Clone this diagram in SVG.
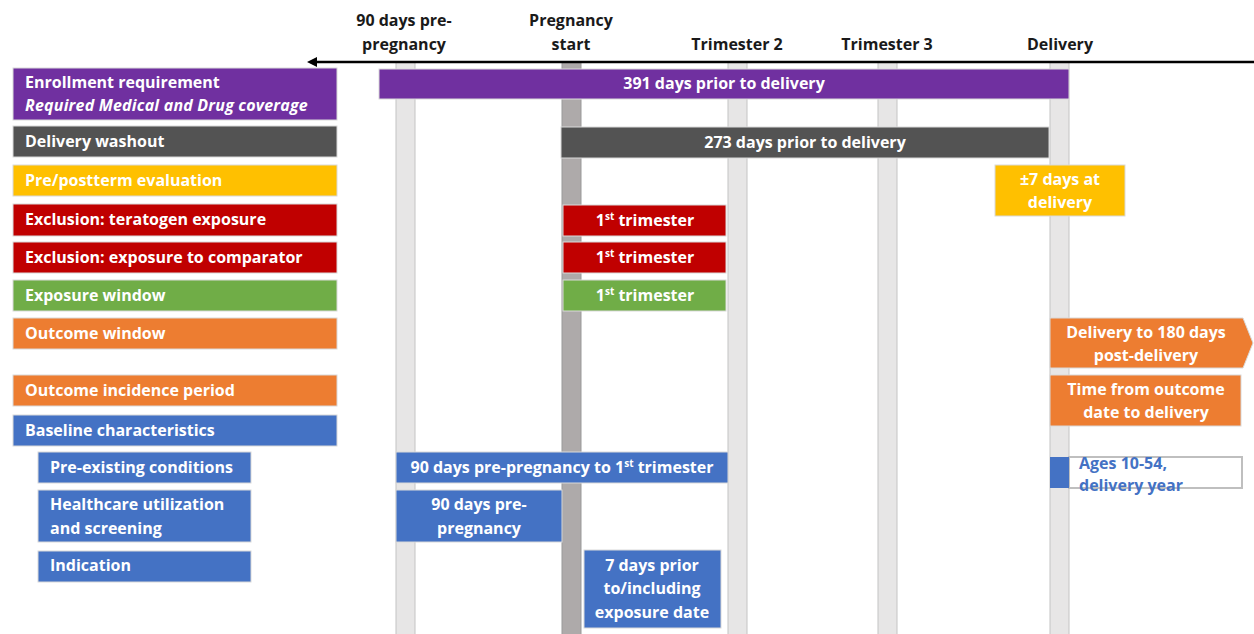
<svg xmlns="http://www.w3.org/2000/svg" width="1254" height="634" viewBox="0 0 1254 634">
<defs>
<style>
.t{font-family:"Open Sans","Noto Sans","Liberation Sans",sans-serif;font-weight:bold;font-size:16px;fill:#fff}
.h{font-family:"Open Sans","Noto Sans","Liberation Sans",sans-serif;font-weight:bold;font-size:16px;fill:#1a1a1a;text-anchor:middle}
.c{text-anchor:middle}
.band{fill:#e7e6e6;stroke:#c4c4c4;stroke-width:1}
.bx{stroke:#d9d9d9;stroke-width:1}
.pu{fill:#7030a0}.dg{fill:#535353}.ye{fill:#ffc000}.re{fill:#c00000}.gr{fill:#70ad47}.or{fill:#ed7d31}.bl{fill:#4472c4}
</style>
<marker id="ah" viewBox="0 0 10 10" refX="1" refY="5" markerWidth="4" markerHeight="4" orient="auto-start-reverse">
<path d="M0,0 L10,5 L0,10 z" fill="#000"/>
</marker>
</defs>
<rect width="1254" height="634" fill="#fff"/>

<g id="bands">
<rect class="band" x="396" y="62" width="19" height="580"/>
<rect x="562" y="62" width="19" height="580" fill="#aeaaaa" stroke="#9a9a9a"/>
<rect class="band" x="728" y="62" width="19" height="580"/>
<rect class="band" x="878" y="62" width="19" height="580"/>
<rect class="band" x="1050" y="62" width="19" height="580"/>
</g>

<g id="connectors">
<line x1="1254" y1="62" x2="316" y2="62" stroke="#000" stroke-width="2.5" marker-end="url(#ah)"/>
</g>

<g id="headers">
<text class="h" x="404" y="26">90 days pre-</text>
<text class="h" x="404" y="50">pregnancy</text>
<text class="h" x="571" y="26">Pregnancy</text>
<text class="h" x="571" y="50">start</text>
<text class="h" x="737" y="50">Trimester 2</text>
<text class="h" x="887" y="50">Trimester 3</text>
<text class="h" x="1060" y="50">Delivery</text>
</g>

<g id="label-enrollment"><rect class="bx pu" x="13" y="68" width="324" height="52"/>
<text class="t" x="25" y="88">Enrollment requirement</text>
<text class="t" x="25" y="111" font-style="italic" font-size="17" letter-spacing="0.2">Required Medical and Drug coverage</text></g>
<g id="label-washout"><rect class="bx dg" x="13" y="126" width="324" height="31"/><text class="t" x="25" y="147">Delivery washout</text></g>
<g id="label-preterm"><rect class="bx ye" x="13" y="165" width="324" height="31"/><text class="t" x="25" y="186">Pre/postterm evaluation</text></g>
<g id="label-teratogen"><rect class="bx re" x="13" y="204" width="324" height="32"/><text class="t" x="25" y="225">Exclusion: teratogen exposure</text></g>
<g id="label-comparator"><rect class="bx re" x="13" y="242" width="324" height="31"/><text class="t" x="25" y="263">Exclusion: exposure to comparator</text></g>
<g id="label-exposure"><rect class="bx gr" x="13" y="280" width="324" height="31"/><text class="t" x="25" y="301">Exposure window</text></g>
<g id="label-outcome"><rect class="bx or" x="13" y="318" width="324" height="31"/><text class="t" x="25" y="339">Outcome window</text></g>
<g id="label-incidence"><rect class="bx or" x="13" y="375" width="324" height="31"/><text class="t" x="25" y="396">Outcome incidence period</text></g>
<g id="label-baseline"><rect class="bx bl" x="13" y="415" width="324" height="31"/><text class="t" x="25" y="436">Baseline characteristics</text></g>
<g id="label-preexisting"><rect class="bx bl" x="38" y="452" width="213" height="31"/><text class="t" x="50" y="473">Pre-existing conditions</text></g>
<g id="label-healthcare"><rect class="bx bl" x="38" y="490" width="213" height="52"/>
<text class="t" x="50" y="510">Healthcare utilization</text><text class="t" x="50" y="534">and screening</text></g>
<g id="label-indication"><rect class="bx bl" x="38" y="551" width="213" height="31"/><text class="t" x="50" y="571">Indication</text></g>

<g id="bar-enrollment"><rect class="bx pu" x="379" y="69" width="690" height="30"/><text class="t c" x="724" y="89">391 days prior to delivery</text></g>
<g id="bar-washout"><rect class="bx dg" x="561" y="127" width="488" height="31"/><text class="t c" x="805" y="148">273 days prior to delivery</text></g>
<g id="bar-preterm"><rect class="bx ye" x="995" y="165" width="130" height="51"/>
<text class="t c" x="1060" y="185">±7 days at</text><text class="t c" x="1060" y="208">delivery</text></g>
<g id="bar-teratogen"><rect class="bx re" x="563" y="205" width="163" height="31"/>
<text class="t c" x="645" y="226">1<tspan dy="-6" font-size="10">st</tspan><tspan dy="6"> trimester</tspan></text></g>
<g id="bar-comparator"><rect class="bx re" x="563" y="242" width="163" height="31"/>
<text class="t c" x="645" y="263">1<tspan dy="-6" font-size="10">st</tspan><tspan dy="6"> trimester</tspan></text></g>
<g id="bar-exposure"><rect class="bx gr" x="563" y="280" width="163" height="31"/>
<text class="t c" x="645" y="301">1<tspan dy="-6" font-size="10">st</tspan><tspan dy="6"> trimester</tspan></text></g>
<g id="bar-outcome"><path class="bx or" d="M1050,318 L1243,318 L1253,343 L1243,368 L1050,368 Z"/>
<text class="t c" x="1146" y="338">Delivery to 180 days</text><text class="t c" x="1146" y="361">post-delivery</text></g>
<g id="bar-incidence"><rect class="bx or" x="1050" y="375" width="191" height="51"/>
<text class="t c" x="1146" y="395">Time from outcome</text><text class="t c" x="1146" y="418">date to delivery</text></g>
<g id="bar-preexisting"><rect class="bx bl" x="396" y="452" width="332" height="31"/>
<text class="t c" x="562" y="473">90 days pre-pregnancy to 1<tspan dy="-6" font-size="10">st</tspan><tspan dy="6"> trimester</tspan></text></g>
<g id="bar-healthcare"><rect class="bx bl" x="396" y="490" width="166" height="52"/>
<text class="t c" x="479" y="510">90 days pre-</text><text class="t c" x="479" y="534">pregnancy</text></g>
<g id="bar-indication"><rect class="bx bl" x="584" y="550" width="137" height="78"/>
<text class="t c" x="652" y="571">7 days prior</text><text class="t c" x="652" y="594">to/including</text><text class="t c" x="652" y="618">exposure date</text></g>
<g id="bar-ages"><rect x="1069" y="457" width="173" height="31" fill="#fff" stroke="#bfbfbf" stroke-width="2"/>
<rect class="bl" x="1050" y="457" width="19" height="31"/>
<text class="t" x="1079" y="469" style="fill:#4472c4">Ages 10-54,</text><text class="t" x="1079" y="491" style="fill:#4472c4">delivery year</text></g>
</svg>
